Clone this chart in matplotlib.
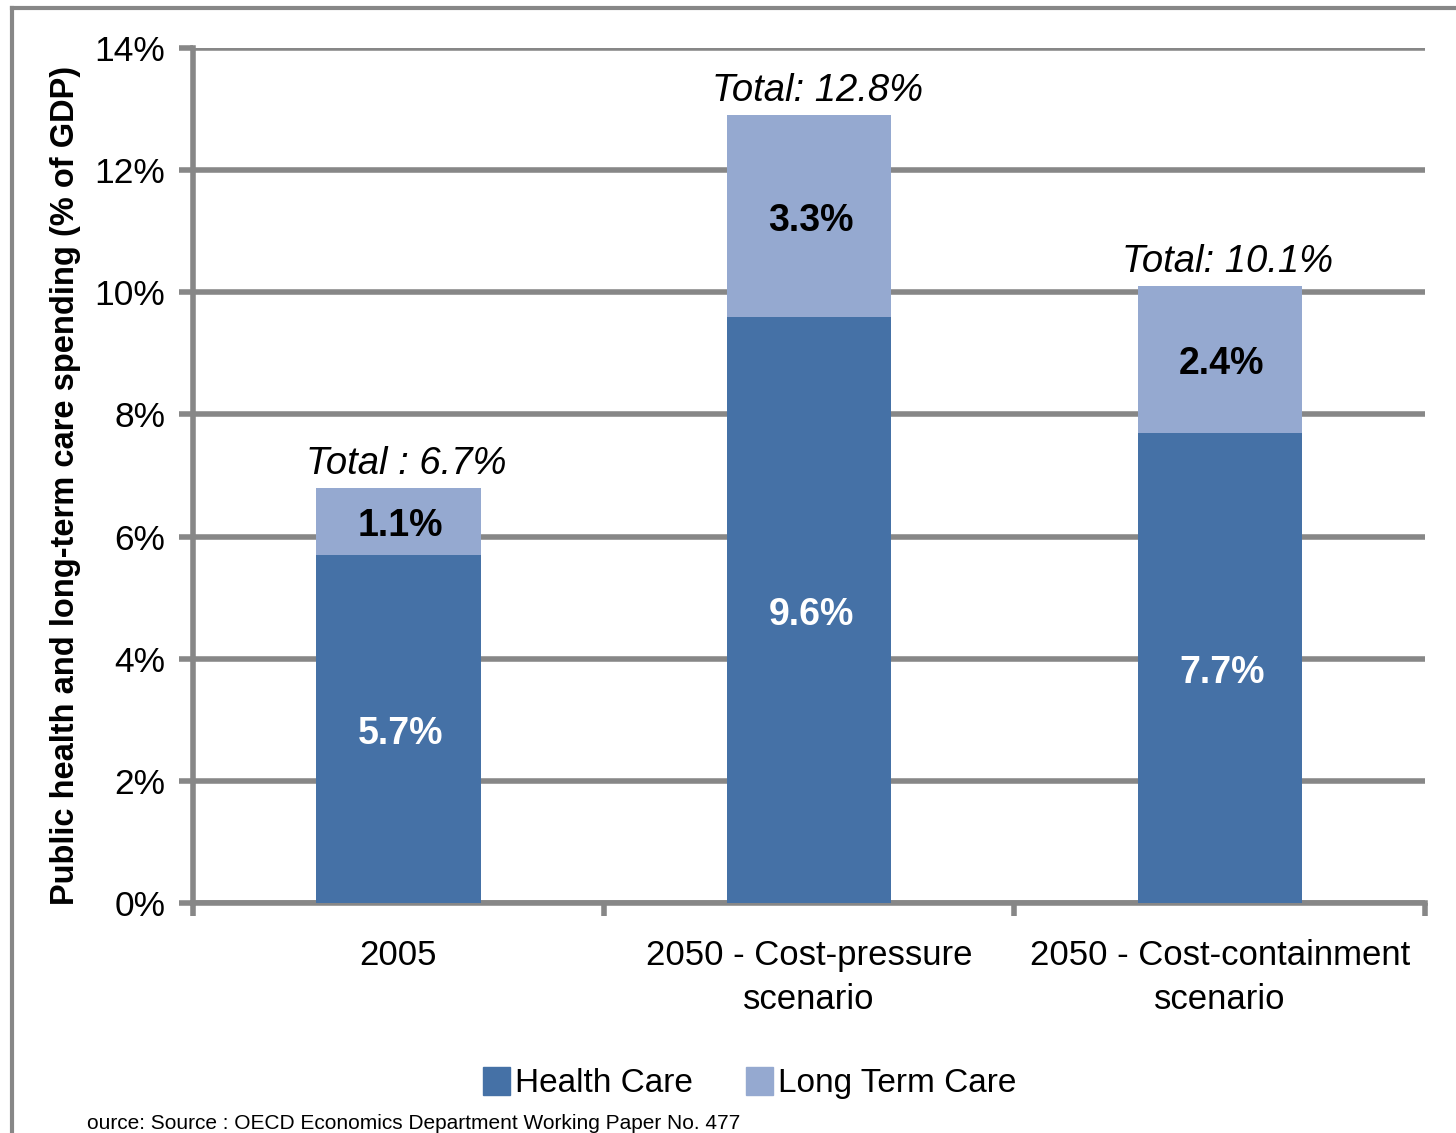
import matplotlib.pyplot as plt
from matplotlib.lines import Line2D
from matplotlib.patches import Patch

# Data
categories = ['2005', '2050 - Cost-pressure\nscenario', '2050 - Cost-containment\nscenario']
health_care = [5.7, 9.6, 7.7]
long_term_care = [1.1, 3.3, 2.4]
health_labels = ['5.7%', '9.6%', '7.7%']
ltc_labels = ['1.1%', '3.3%', '2.4%']
total_labels = ['Total : 6.7%', 'Total: 12.8%', 'Total: 10.1%']
y_ticks = [0, 2, 4, 6, 8, 10, 12, 14]

plt.rcParams['font.family'] = ['Liberation Sans', 'DejaVu Sans']

grey = '#878787'
c_health = '#4571A6'
c_ltc = '#95A9D0'

fig = plt.figure(figsize=(14.56, 11.33), dpi=100)
ax = fig.add_axes([0.1326, 0.203, 0.8461, 0.7546])

x = list(range(len(categories)))
ax.bar(x, health_care, width=0.4, color=c_health, zorder=3)
ax.bar(x, long_term_care, width=0.4, bottom=health_care, color=c_ltc, zorder=3)

for i in x:
    ax.text(i + 0.005, health_care[i] / 2 - 0.08, health_labels[i], ha='center', va='center',
            color='white', fontsize=27, fontweight='bold', zorder=4)
    ax.text(i + 0.005, health_care[i] + long_term_care[i] / 2 - 0.08, ltc_labels[i], ha='center',
            va='center', color='black', fontsize=27, fontweight='bold', zorder=4)
    ax.text(i + 0.02, health_care[i] + long_term_care[i] + 0.1, total_labels[i],
            ha='center', va='bottom', fontsize=27.5, fontstyle='italic', zorder=4)

ax.set_xlim(-0.5, 2.5)
ax.set_ylim(0, 14)
ax.set_yticks(y_ticks)
ax.set_yticklabels([f'{v}%' for v in y_ticks], fontsize=25.5)
ax.set_xticks(x)
ax.set_xticklabels(categories, fontsize=25, linespacing=1.4)
ax.set_xticks([-0.5, 0.5, 1.5, 2.5], minor=True)
ax.tick_params(axis='x', which='major', length=0, pad=26)
ax.tick_params(axis='x', which='minor', length=9, width=4, color=grey, direction='out')
ax.tick_params(axis='y', length=10, width=4, color=grey, pad=10)

ax.grid(axis='y', color=grey, linewidth=4, zorder=1, solid_capstyle='round')
for s in ['top', 'right']:
    ax.spines[s].set_visible(False)
for s in ['left', 'bottom']:
    ax.spines[s].set_color(grey)
    ax.spines[s].set_linewidth(4)
    ax.spines[s].set_zorder(2)

ax.set_ylabel('Public health and long-term care spending (% of GDP)',
              fontsize=23.5, fontweight='bold')
ax.yaxis.set_label_coords(-0.091, 0.488)

handles = [Patch(color=c_health, label='Health Care'),
           Patch(color=c_ltc, label='Long Term Care')]
fig.legend(handles=handles, loc='center', bbox_to_anchor=(0.515, 0.044),
           ncol=2, frameon=False, fontsize=24, handlelength=0.8,
           handleheight=0.9, handletextpad=0.15, columnspacing=1.6)

fig.text(0.06, 0.0, 'ource: Source : OECD Economics Department Working Paper No. 477',
         fontsize=15, ha='left', va='bottom')

# outer frame
fig.add_artist(Line2D([0.0082, 1.0], [0.9925, 0.9925], color=grey, linewidth=3))
fig.add_artist(Line2D([0.0082, 0.0082], [0.0, 0.9925], color=grey, linewidth=3))

fig.savefig('out.png', dpi=100)
